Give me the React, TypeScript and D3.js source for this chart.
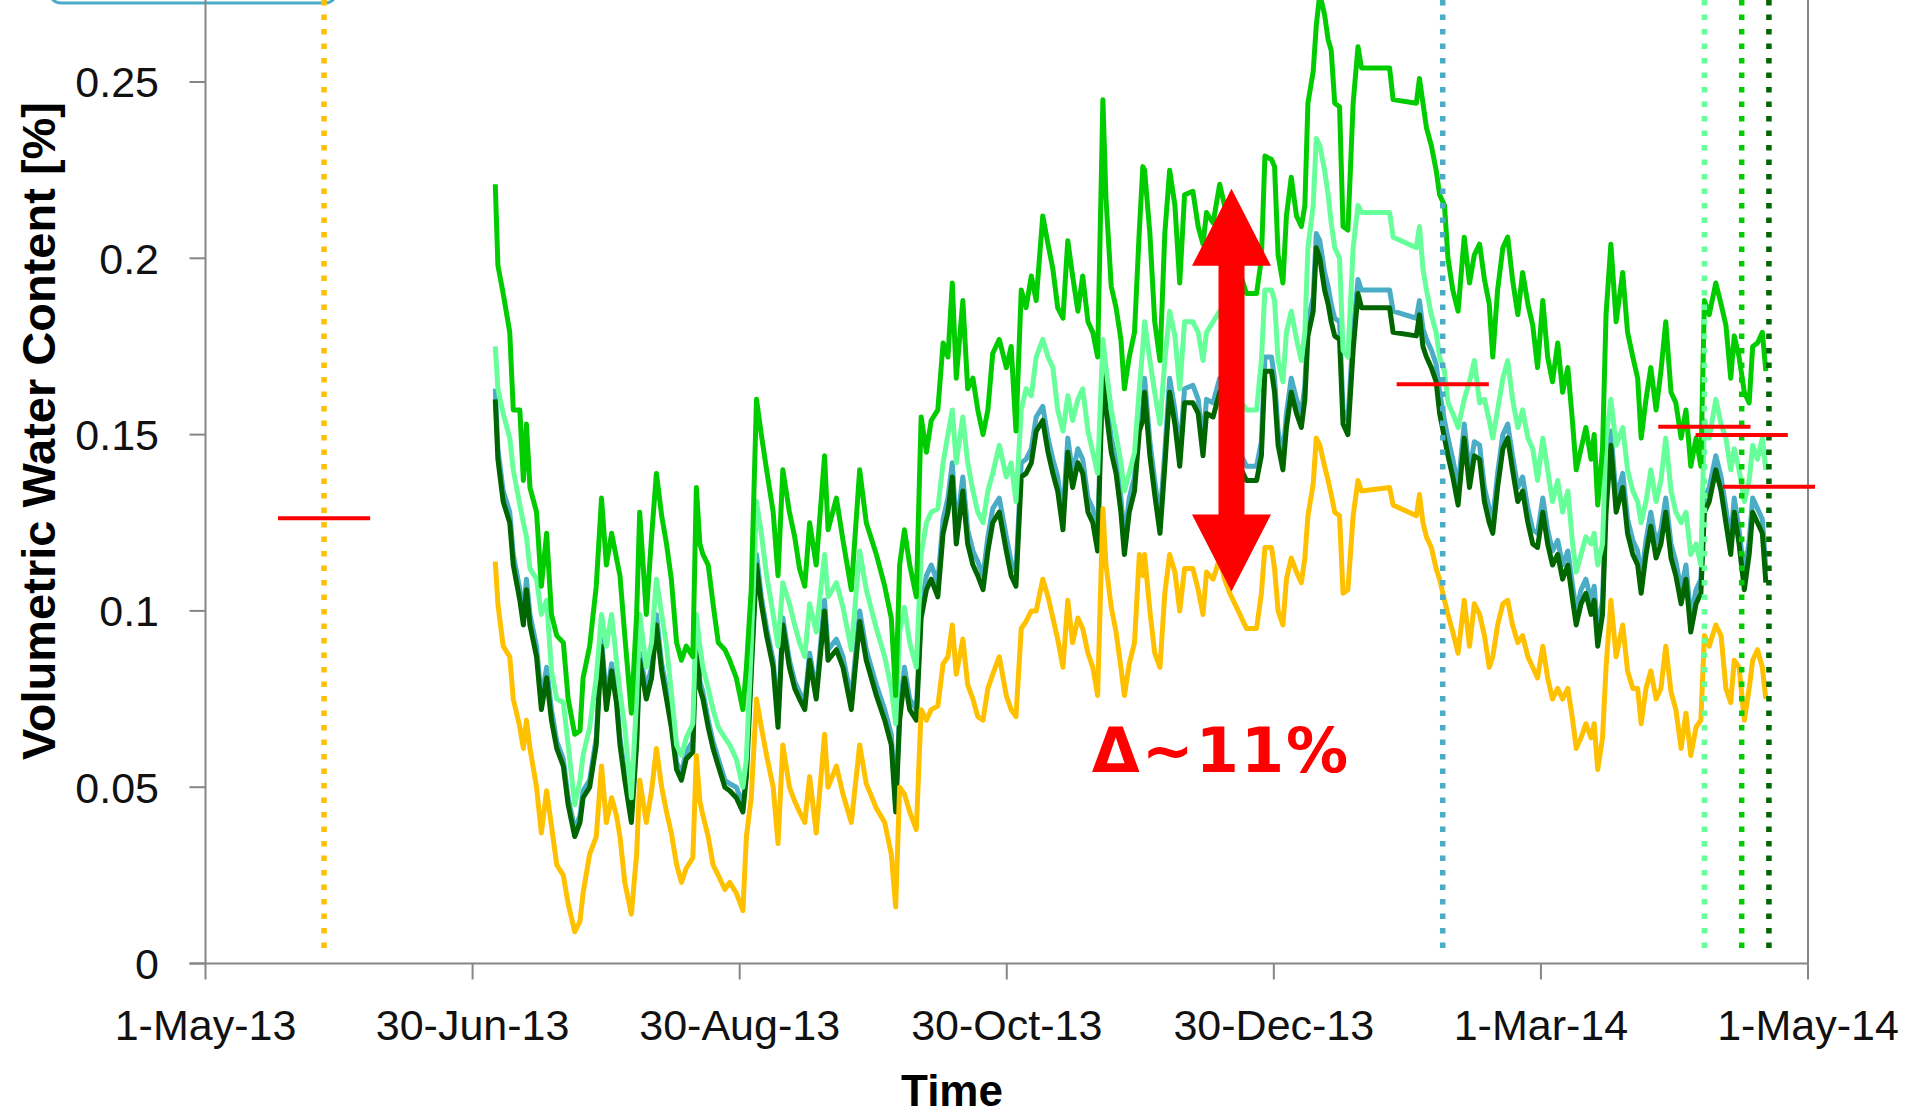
import React from 'react';
import * as d3 from 'd3';

const W = 1917;
const H = 1115;

// Axis tick labels (x ticks are evenly spaced over 1-May-13 .. 1-May-14, 365 days)
const xTickLabels = ['1-May-13', '30-Jun-13', '30-Aug-13', '30-Oct-13', '30-Dec-13', '1-Mar-14', '1-May-14'];
const yTickValues = [0, 0.05, 0.1, 0.15, 0.2, 0.25];
const yTickLabels = ['0', '0.05', '0.1', '0.15', '0.2', '0.25'];

// Days since 1-May-13
const days = [
  66.0, 66.6, 67.8, 69.3, 70.1, 71.6, 72.4, 73.1, 73.9, 75.4, 76.5, 77.7, 78.8, 80.0, 81.5, 82.6, 84.1, 85.3, 86.0, 87.5,
  89.0, 90.2, 91.3, 92.5, 93.6, 94.4, 95.5, 97.0, 98.2, 98.9, 100.4, 101.6, 102.7, 103.9, 105.0, 106.1, 107.3, 108.4, 109.5, 111.0,
  111.8, 112.6, 113.3, 114.5, 115.6, 116.8, 118.3, 119.4, 120.9, 122.4, 123.2, 124.3, 125.5, 126.6, 127.8, 129.3, 130.4, 131.5, 133.0, 134.2,
  135.3, 136.5, 137.6,
  139.1, 141.0, 141.8, 143.7, 145.2, 147.1, 149.0, 150.5, 152.8, 154.7, 156.2, 157.2, 158.1, 159.2, 160.4, 161.9, 163.0, 164.2, 165.3, 166.8,
  168.0, 169.1, 170.1, 171.0, 172.5, 173.6, 174.8, 175.9, 177.1, 178.2, 179.3, 180.8, 182.4, 183.5, 184.6, 185.8, 186.9, 188.1, 189.2, 190.7,
  191.9, 193.0, 194.1, 195.3, 196.4, 197.5, 198.7, 199.8, 201.0, 202.1, 203.2, 204.4, 205.1, 206.3, 207.4, 208.5, 209.3, 210.4, 211.6, 212.7,
  213.5,
  213.9, 215.1, 216.2, 217.4, 218.5, 219.6, 220.8, 221.9, 223.0, 224.9, 226.1, 227.2, 228.0, 229.5, 231.0, 232.1, 233.3, 235.6, 237.1, 239.4,
  240.5, 241.3, 242.8, 243.5, 244.3, 245.4, 246.2, 247.3, 248.5, 249.6, 250.4, 251.1, 252.3, 253.0, 253.8, 254.9, 255.7, 256.4, 257.2, 258.3,
  259.1, 260.2, 261.4, 262.5, 263.3, 269.7, 270.5, 275.8, 276.5, 277.3, 278.1, 279.2, 280.3, 281.1, 282.2, 283.0, 284.1, 285.3,
  286.7, 287.9, 289.0, 290.2, 291.3, 292.4, 293.2, 294.3, 295.5, 296.6, 297.7, 298.9, 300.0, 301.2, 302.3, 303.4, 304.6, 305.7, 306.8, 308.0,
  309.1, 310.3, 311.4, 312.2, 313.3, 314.4, 315.6, 316.3, 317.1, 318.2, 319.0, 320.1, 321.3, 322.8, 323.9, 325.1, 326.2, 327.0, 328.1, 329.2,
  330.4, 331.5, 332.6, 333.8, 334.9, 336.1, 337.2, 338.3, 339.5, 340.6, 341.4, 342.5, 344.0, 345.2, 346.3, 347.4, 348.2, 349.3, 350.5, 351.6,
  352.4, 353.5, 354.6, 355.4,
];

const greenValues = [
  .221, .198, .190, .179, .157, .157, .137, .153, .135, .128, .107, .122, .099, .093, .091, .075, .065, .066, .081, .090,
  .107, .132, .113, .122, .115, .110, .093, .071, .099, .128, .099, .121, .139, .127, .119, .109, .091, .086, .090, .087,
  .135, .119, .116, .113, .102, .091, .089, .086, .081, .072, .084, .106, .160, .150, .140, .128, .110, .140, .128, .121,
  .112, .107, .125,
  .113, .144, .123, .132, .120, .106, .140, .125, .116, .107, .098, .076, .113, .123, .113, .104, .155, .145, .154, .157,
  .176, .172, .193, .166, .188, .163, .166, .157, .150, .157, .173, .177, .169, .175, .151, .191, .186, .195, .188, .212,
  .204, .197, .186, .183, .205, .195, .185, .195, .182, .179, .172, .245, .217, .192, .186, .177, .163, .172, .179, .208,
  .226,
  .225, .207, .182, .171, .207, .225, .215, .193, .218, .219, .209, .204, .213, .210, .221, .215, .203, .196, .190, .190,
  .200, .229, .228, .226, .201, .193, .212, .223, .212, .209, .215, .244, .253, .266, .275, .269, .262, .259, .244, .243,
  .209, .208, .244, .260, .254, .254, .245, .244, .251, .244, .237, .232, .225, .218, .215, .200, .191, .185,
  .206, .193, .201, .204, .194, .187, .172, .191, .203, .206, .194, .184, .196, .187, .181, .169, .188, .172, .165, .176,
  .162, .169, .153, .140, .146, .152, .143, .150, .130, .146, .184, .204, .182, .196, .179, .172, .166, .149, .160, .169,
  .157, .168, .182, .162, .159, .149, .157, .141, .149, .141, .188, .184, .193, .187, .181, .166, .178, .172, .162, .159,
  .175, .176, .179, .168,
];

const lightGreenValues = [
  .175, .163, .156, .149, .140, .130, .125, .121, .112, .109, .099, .103, .083, .075, .074, .062, .045, .052, .059, .067,
  .081, .099, .090, .099, .086, .077, .067, .047, .075, .099, .084, .091, .109, .099, .090, .077, .062, .059, .064, .068,
  .099, .090, .084, .078, .072, .067, .064, .062, .058, .050, .058, .090, .131, .122, .110, .099, .090, .108, .102, .096,
  .091, .087, .102,
  .094, .116, .104, .108, .101, .089, .117, .106, .095, .087, .078, .068, .094, .101, .091, .084, .116, .125, .128, .129,
  .142, .150, .157, .142, .155, .142, .134, .128, .125, .134, .139, .147, .138, .142, .131, .157, .163, .161, .172, .177,
  .172, .169, .157, .151, .161, .154, .160, .163, .151, .145, .139, .177, .169, .157, .150, .142, .134, .139, .145, .163,
  .175,
  .182, .171, .162, .153, .171, .185, .178, .163, .182, .182, .179, .171, .179, .182, .185, .179, .171, .160, .157, .157,
  .171, .191, .191, .188, .171, .165, .179, .185, .177, .171, .179, .203, .215, .234, .232, .225, .218, .210, .203, .200,
  .174, .172, .203, .215, .213, .213, .206, .203, .209, .197, .191, .184, .179, .172, .168, .159, .156, .152,
  .160, .165, .171, .159, .160, .154, .149, .157, .166, .171, .160, .152, .157, .149, .146, .137, .149, .140, .131, .137,
  .128, .134, .119, .111, .116, .121, .119, .122, .113, .119, .149, .160, .147, .152, .140, .134, .131, .125, .131, .140,
  .131, .137, .149, .134, .128, .125, .128, .116, .119, .113, .154, .149, .160, .153, .149, .140, .146, .140, .131, .137,
  .147, .143, .149, .140,
];

const blueValues = [
  .163, .146, .134, .128, .116, .106, .099, .109, .099, .090, .075, .084, .072, .063, .058, .047, .038, .042, .049, .052,
  .064, .092, .075, .085, .076, .064, .054, .042, .064, .088, .078, .084, .099, .085, .078, .070, .057, .054, .060, .063,
  .095, .080, .077, .069, .063, .058, .052, .051, .050, .045, .055, .084, .116, .104, .095, .086, .069, .098, .086, .080,
  .077, .074, .088,
  .077, .103, .089, .092, .087, .075, .100, .089, .079, .072, .065, .045, .072, .084, .075, .072, .101, .110, .113, .108,
  .126, .132, .142, .123, .138, .123, .117, .114, .110, .121, .129, .132, .121, .114, .111, .142, .143, .146, .155, .158,
  .149, .143, .138, .127, .149, .139, .146, .143, .132, .129, .121, .173, .161, .149, .143, .132, .120, .132, .138, .155,
  .158,
  .166, .148, .137, .126, .145, .166, .157, .145, .163, .164, .160, .148, .160, .159, .166, .161, .154, .145, .141, .141,
  .148, .172, .172, .166, .151, .144, .156, .166, .160, .156, .164, .182, .189, .207, .205, .196, .192, .187, .183, .182,
  .157, .154, .179, .194, .191, .191, .185, .183, .188, .180, .177, .174, .170, .162, .154, .149, .143, .135,
  .153, .139, .148, .147, .135, .129, .126, .139, .150, .153, .144, .135, .138, .129, .123, .122, .132, .123, .117, .120,
  .113, .117, .107, .100, .106, .109, .103, .107, .094, .103, .132, .151, .132, .139, .126, .120, .117, .109, .120, .128,
  .119, .123, .132, .119, .114, .106, .113, .098, .106, .109, .132, .135, .144, .138, .129, .120, .132, .123, .110, .120,
  .132, .129, .126, .112,
];

const darkGreenValues = [
  .160, .143, .131, .125, .113, .103, .096, .106, .096, .087, .072, .081, .069, .061, .056, .045, .036, .040, .047, .050,
  .062, .090, .072, .083, .074, .062, .052, .040, .062, .086, .075, .081, .096, .083, .075, .067, .055, .052, .058, .060,
  .093, .078, .075, .067, .061, .056, .050, .049, .047, .043, .053, .082, .113, .102, .093, .084, .067, .096, .084, .078,
  .075, .072, .086,
  .075, .100, .086, .089, .084, .072, .097, .086, .076, .069, .062, .043, .069, .081, .072, .069, .098, .106, .109, .104,
  .122, .128, .138, .119, .134, .119, .113, .110, .106, .117, .125, .128, .117, .110, .107, .138, .139, .142, .151, .154,
  .145, .139, .134, .123, .145, .135, .142, .139, .128, .125, .117, .170, .157, .145, .139, .128, .116, .128, .134, .151,
  .154,
  .162, .144, .133, .122, .141, .162, .153, .141, .159, .159, .156, .144, .156, .155, .162, .157, .150, .141, .137, .137,
  .144, .168, .168, .162, .147, .140, .152, .162, .156, .152, .160, .178, .185, .203, .200, .191, .187, .182, .178, .177,
  .153, .150, .174, .190, .186, .186, .179, .178, .184, .175, .172, .169, .165, .156, .149, .144, .138, .130,
  .149, .135, .144, .143, .131, .125, .122, .135, .146, .149, .140, .131, .134, .125, .119, .118, .128, .119, .113, .116,
  .109, .113, .103, .096, .102, .105, .099, .103, .090, .099, .128, .147, .128, .135, .122, .116, .113, .105, .116, .124,
  .115, .119, .128, .115, .110, .102, .109, .094, .102, .105, .128, .131, .140, .134, .125, .116, .128, .119, .106, .116,
  .128, .125, .122, .108,
];

const orangeValues = [
  .114, .102, .090, .087, .075, .067, .061, .069, .061, .050, .037, .049, .039, .028, .025, .017, .009, .012, .020, .031,
  .036, .056, .040, .047, .042, .036, .023, .014, .031, .052, .040, .049, .061, .050, .043, .037, .028, .023, .027, .030,
  .059, .046, .042, .036, .028, .025, .021, .023, .020, .015, .036, .047, .075, .067, .059, .050, .034, .062, .050, .046,
  .043, .040, .053,
  .037, .065, .050, .056, .048, .040, .062, .051, .044, .040, .031, .016, .050, .048, .043, .038, .072, .069, .072, .073,
  .085, .087, .096, .082, .092, .079, .075, .070, .069, .078, .082, .087, .076, .072, .070, .095, .097, .100, .100, .109,
  .104, .098, .092, .084, .103, .091, .098, .095, .088, .084, .076, .129, .113, .101, .094, .084, .076, .085, .091, .116,
  .110,
  .116, .100, .088, .084, .105, .116, .111, .100, .112, .112, .106, .099, .111, .109, .115, .109, .105, .099, .095, .095,
  .105, .118, .118, .112, .100, .096, .109, .115, .111, .108, .115, .127, .136, .149, .147, .141, .137, .133, .128, .127,
  .105, .106, .127, .137, .134, .135, .130, .127, .133, .125, .121, .118, .112, .109, .103, .099, .094, .088,
  .103, .090, .102, .099, .093, .084, .087, .096, .102, .103, .096, .091, .093, .087, .084, .081, .090, .081, .075, .078,
  .075, .078, .069, .061, .064, .068, .064, .068, .055, .064, .084, .103, .087, .096, .083, .078, .078, .068, .078, .083,
  .075, .078, .090, .077, .072, .061, .071, .059, .067, .069, .093, .090, .096, .093, .078, .074, .086, .084, .069, .078,
  .086, .089, .084, .075,
];

// Installation markers (dotted verticals) and reference levels (red dashes)
const markerDays = [27.0, 281.8, 341.4, 349.9, 356.1];
const markerColors = ['#FFC000', '#4BACC6', '#66FF99', '#00CC00', '#006600'];
const refValues = [0.1263, 0.1643, 0.1522, 0.1499, 0.1352];
const refHalfWidthDays = 10.5;

// Delta annotation
const arrowDay = 233.7;
const arrowTop = 0.2197;
const arrowBottom = 0.1055;
const deltaLabel = 'Δ~11%';
const deltaLabelDay = 231.3;
const deltaLabelValue = 0.0543;

const series = [
  { name: 'blue', values: blueValues, color: '#4BACC6' },
  { name: 'darkgreen', values: darkGreenValues, color: '#006600' },
  { name: 'lightgreen', values: lightGreenValues, color: '#66FF99' },
  { name: 'green', values: greenValues, color: '#00CC00' },
  { name: 'orange', values: orangeValues, color: '#FFC000' },
];

const AXIS = '#868686';
const FONT = "'Liberation Sans', Arial, sans-serif";

export default function App() {
  const x = d3.scaleLinear().domain([0, 365]).range([205.5, 1808]);
  const y = d3.scaleLinear().domain([0, 0.25]).range([963.5, 82]);
  const xTicks = d3.range(7).map((i) => (i * 365) / 6);

  const line = d3
    .line<[number, number]>()
    .x((d) => x(d[0]))
    .y((d) => y(d[1]));

  const y0 = y(0);
  const cx = x(arrowDay);
  const top = y(arrowTop);
  const bot = y(arrowBottom);
  const headH = 77;
  const headW = 39.5;
  const shaftW = 13;
  const arrowPath = [
    [cx, top],
    [cx + headW, top + headH],
    [cx + shaftW, top + headH],
    [cx + shaftW, bot - headH],
    [cx + headW, bot - headH],
    [cx, bot],
    [cx - headW, bot - headH],
    [cx - shaftW, bot - headH],
    [cx - shaftW, top + headH],
    [cx - headW, top + headH],
  ]
    .map((p, i) => (i === 0 ? 'M' : 'L') + p[0].toFixed(1) + ',' + p[1].toFixed(1))
    .join(' ') + ' Z';

  return (
    <svg
      width={W}
      height={H}
      viewBox={`0 0 ${W} ${H}`}
      style={{ position: 'absolute', left: 0, top: 0, background: '#fff' }}
    >
      <rect x={0} y={0} width={W} height={H} fill="#fff" />
      {/* partially visible box at top-left */}
      <rect x={49} y={-50} width={288} height={53} rx={12} fill="#fff" stroke="#4BACC6" strokeWidth={3} />

      {/* axes */}
      <line x1={x(0)} x2={x(0)} y1={0} y2={y0} stroke={AXIS} strokeWidth={2} />
      <line x1={x(365)} x2={x(365)} y1={0} y2={y0} stroke={AXIS} strokeWidth={2} />
      <line x1={x(0) - 16} x2={x(365)} y1={y0} y2={y0} stroke={AXIS} strokeWidth={2} />
      {yTickValues.map((v, i) => (
        <g key={'yt' + i}>
          <line x1={x(0) - 16} x2={x(0)} y1={y(v)} y2={y(v)} stroke={AXIS} strokeWidth={2} />
          <text
            x={159}
            y={y(v)}
            dy="0.36em"
            textAnchor="end"
            fontFamily={FONT}
            fontSize={43}
            fill="#111"
          >
            {yTickLabels[i]}
          </text>
        </g>
      ))}
      {xTicks.map((d, i) => (
        <g key={'xt' + i}>
          <line x1={x(d)} x2={x(d)} y1={y0} y2={y0 + 16} stroke={AXIS} strokeWidth={2} />
          <text x={x(d)} y={1040} textAnchor="middle" fontFamily={FONT} fontSize={43} fill="#111">
            {xTickLabels[i]}
          </text>
        </g>
      ))}

      {/* axis titles */}
      <text
        transform={`translate(55, 431) rotate(-90)`}
        textAnchor="middle"
        fontFamily={FONT}
        fontWeight="bold"
        fontSize={47}
        fill="#000"
      >
        Volumetric Water Content [%]
      </text>
      <text x={952} y={1106} textAnchor="middle" fontFamily={FONT} fontWeight="bold" fontSize={44} fill="#000">
        Time
      </text>

      {/* data series */}
      {series.map((s) => {
        const pts: [number, number][] = days
          .map((d, i) => [d, s.values[i]] as [number, number])
          .filter((p) => p[1] !== undefined);
        return (
          <path
            key={s.name}
            d={line(pts) || ''}
            fill="none"
            stroke={s.color}
            strokeWidth={5}
            strokeLinejoin="round"
          />
        );
      })}

      {/* dotted marker lines */}
      {markerDays.map((d, i) => (
        <line
          key={'m' + i}
          x1={x(d)}
          x2={x(d)}
          y1={0}
          y2={y(0.002)}
          stroke={markerColors[i]}
          strokeWidth={5.5}
          strokeDasharray="5.5 9"
        />
      ))}

      {/* red reference levels */}
      {markerDays.map((d, i) => (
        <line
          key={'r' + i}
          x1={x(d - refHalfWidthDays)}
          x2={x(d + refHalfWidthDays)}
          y1={y(refValues[i])}
          y2={y(refValues[i])}
          stroke="#FF0000"
          strokeWidth={4}
        />
      ))}

      {/* delta arrow and label */}
      <path d={arrowPath} fill="#FF0000" />
      <text
        x={x(deltaLabelDay)}
        y={y(deltaLabelValue)}
        textAnchor="middle"
        fontFamily="'DejaVu Sans', Verdana, sans-serif"
        fontWeight="bold"
        fontSize={62}
        letterSpacing={2}
        fill="#FF0000"
      >
        {deltaLabel}
      </text>
    </svg>
  );
}
